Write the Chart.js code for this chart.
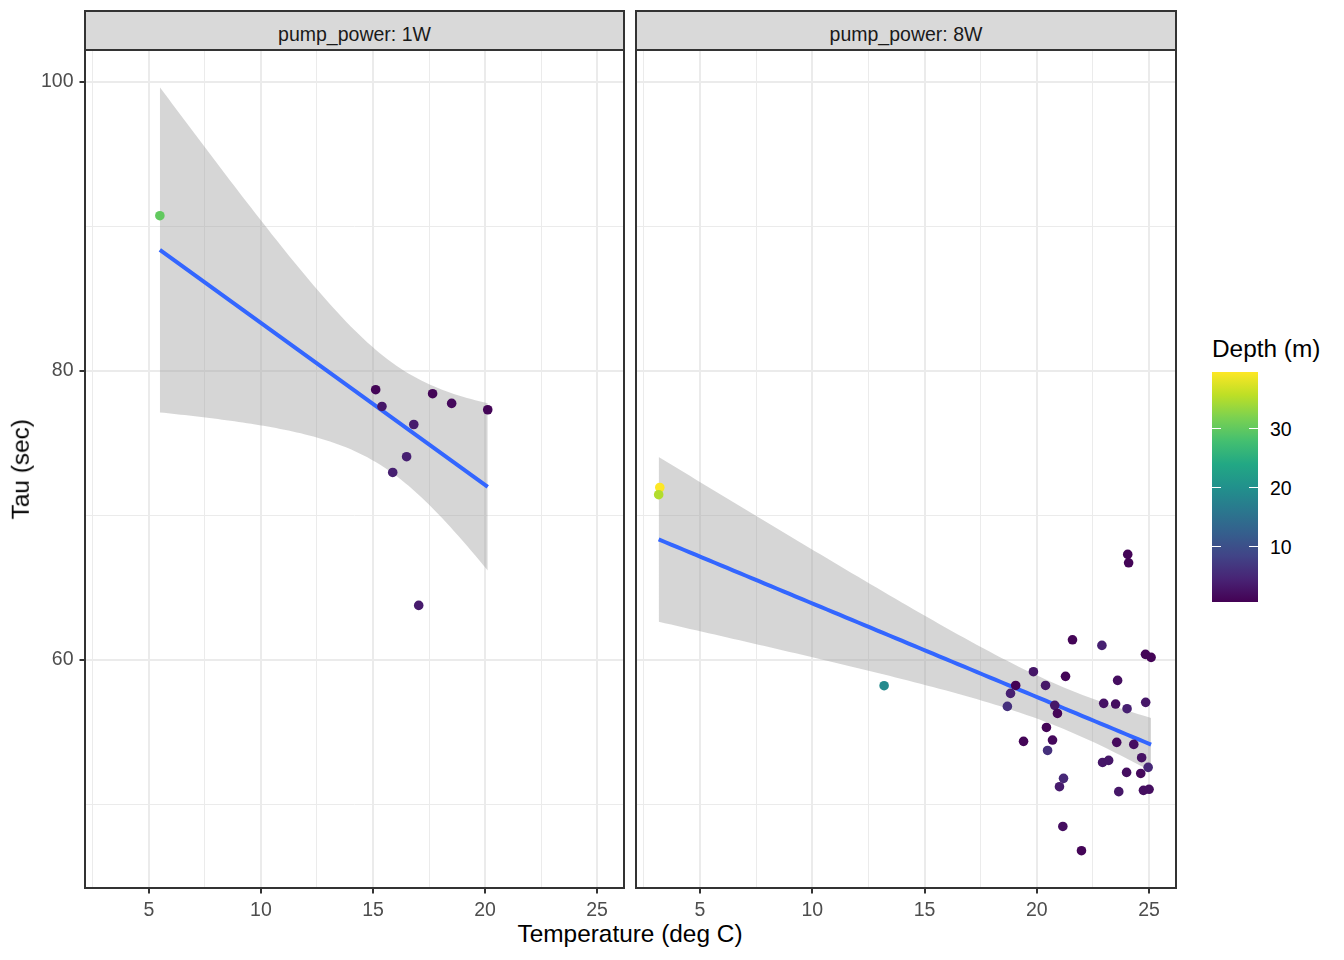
<!DOCTYPE html>
<html>
<head>
<meta charset="utf-8">
<script src="https://cdn.jsdelivr.net/npm/chart.js@4.4.1/dist/chart.umd.min.js"></script>
<style>
  body { margin: 0; background: #fff; font-family: "Liberation Sans", Arial, sans-serif; }
  #wrap { position: relative; width: 1344px; height: 960px; overflow: hidden; }
  canvas { position: absolute; top: 0; }
  .strip { position: absolute; top: 10px; height: 41px; background: #d9d9d9; border: 2px solid #333; box-sizing: border-box; }
  .txt { position: absolute; white-space: nowrap; line-height: 1; }
</style>
</head>
<body>
<div id="wrap">
  <canvas id="c1" width="630" height="920" style="left:0"></canvas>
  <canvas id="c2" width="560" height="920" style="left:630px"></canvas>
</div>
<script>
const FONT = '"Liberation Sans", Arial, sans-serif';
const SMALL = 19.5, BIG = 24.4;

// facet 1W
const tempLow  = [5.49, 15.12, 15.40, 17.66, 18.51, 20.12, 16.82, 16.50, 15.88, 17.04];
const tauLow   = [90.73, 78.69, 77.53, 78.41, 77.74, 77.30, 76.28, 74.05, 72.96, 63.76];
const depthLow = [30, 1, 3, 1, 1.5, 1, 3.5, 4, 4, 3.5];

// facet 8W
const tempHigh  = [3.21, 3.16, 13.20, 24.05, 24.09, 21.59, 22.90, 24.84, 25.09, 19.85, 21.28, 23.60, 19.06, 20.39,
                   18.83, 18.69, 20.80, 20.92, 22.98, 23.51, 24.02, 24.85, 20.43, 19.41, 20.70, 20.48, 23.56, 24.32,
                   24.67, 24.96, 22.93, 23.20, 24.00, 24.63, 21.19, 21.01, 23.65, 24.75, 25.00, 21.16, 21.99];
const tauHigh   = [71.92, 71.42, 58.20, 67.29, 66.71, 61.38, 60.99, 60.37, 60.16, 59.17, 58.85, 58.57, 58.22, 58.22,
                   57.67, 56.77, 56.84, 56.28, 56.98, 56.93, 56.61, 57.05, 55.31, 54.35, 54.44, 53.72, 54.28, 54.14,
                   53.22, 52.55, 52.89, 53.03, 52.20, 52.13, 51.79, 51.21, 50.87, 50.96, 51.03, 48.46, 46.78];
const depthHigh = [39.5, 35, 19, 1, 1, 1, 4, 1, 1, 3, 1, 2, 0.6, 3,
                   4, 6, 3, 1, 2.5, 2, 4, 3, 1, 1, 1.5, 6, 1.5, 2,
                   2.5, 5, 3, 3, 2, 1.5, 5, 3.5, 3, 2, 2, 2, 1];

const panelNames = ['pump_power: 1W', 'pump_power: 8W'];
const xTicks = [5, 10, 15, 20, 25];
const yTicks = [60, 80, 100];
const depthTicks = [10, 20, 30];

const viridis = ['#440154', '#482475', '#414487', '#355f8d', '#2a788e', '#21918c',
                 '#22a884', '#44bf70', '#7ad151', '#bddf26', '#fde725'];

const allDepth = depthLow.concat(depthHigh);
const dMin = Math.min(...allDepth), dMax = Math.max(...allDepth);

function hexRgb(h) {
  return [parseInt(h.slice(1, 3), 16), parseInt(h.slice(3, 5), 16), parseInt(h.slice(5, 7), 16)];
}
function depthColor(d) {
  const t = Math.max(0, Math.min(1, (d - dMin) / (dMax - dMin))) * (viridis.length - 1);
  const i = Math.min(Math.floor(t), viridis.length - 2), f = t - i;
  const a = hexRgb(viridis[i]), b = hexRgb(viridis[i + 1]);
  return 'rgb(' + a.map((v, k) => Math.round(v + (b[k] - v) * f)).join(',') + ')';
}

// t quantile (0.975) by Cornish-Fisher expansion
function tQuant(df) {
  const z = 1.959964;
  const z3 = z ** 3, z5 = z ** 5, z7 = z ** 7;
  return z + (z3 + z) / (4 * df) + (5 * z5 + 16 * z3 + 3 * z) / (96 * df * df)
    + (3 * z7 + 19 * z5 + 17 * z3 - 15 * z) / (384 * df ** 3);
}

// linear model + 95% band, like geom_smooth(method = "lm")
function lmFit(xs, ys) {
  const n = xs.length;
  const mx = xs.reduce((s, v) => s + v, 0) / n;
  const my = ys.reduce((s, v) => s + v, 0) / n;
  let sxx = 0, sxy = 0;
  xs.forEach((x, i) => { sxx += (x - mx) ** 2; sxy += (x - mx) * (ys[i] - my); });
  const b = sxy / sxx, a = my - b * mx;
  let sse = 0;
  xs.forEach((x, i) => { sse += (ys[i] - a - b * x) ** 2; });
  const s = Math.sqrt(sse / (n - 2)), t = tQuant(n - 2);
  const lo = Math.min(...xs), hi = Math.max(...xs);
  const fit = [], upper = [], lower = [];
  for (let i = 0; i < 80; i++) {
    const x = lo + (hi - lo) * i / 79;
    const yh = a + b * x;
    const se = s * Math.sqrt(1 / n + (x - mx) ** 2 / sxx);
    fit.push({ x, y: yh });
    upper.push({ x, y: yh + t * se });
    lower.push({ x, y: yh - t * se });
  }
  return { fit, upper, lower };
}

const isMajor = (list, v) => list.some(m => Math.abs(m - v) < 1e-6);

const panelBorder = {
  id: 'panelBorder',
  afterDraw(chart) {
    const { ctx, chartArea: a } = chart;
    ctx.save();
    ctx.strokeStyle = '#333333';
    ctx.lineWidth = 2;
    ctx.strokeRect(a.left, a.top, a.right - a.left, a.bottom - a.top);
    ctx.restore();
  }
};

function makePanel(id, xs, ys, ds, showY, padRight) {
  const m = lmFit(xs, ys);
  return new Chart(document.getElementById(id), {
    type: 'scatter',
    data: {
      datasets: [
        {
          data: xs.map((x, i) => ({ x, y: ys[i] })),
          backgroundColor: ds.map(depthColor),
          pointRadius: 4.8, pointBorderWidth: 0, order: 0
        },
        {
          data: m.fit, showLine: true, pointRadius: 0, borderColor: '#3366ff',
          borderWidth: 4, tension: 0, order: 1
        },
        {
          data: m.upper, showLine: true, pointRadius: 0, borderWidth: 0,
          borderColor: 'rgba(0,0,0,0)', fill: false, order: 2
        },
        {
          data: m.lower, showLine: true, pointRadius: 0, borderWidth: 0,
          borderColor: 'rgba(0,0,0,0)', fill: '-1', backgroundColor: 'rgba(153,153,153,0.4)', order: 3
        }
      ]
    },
    options: {
      responsive: false, animation: false, devicePixelRatio: 1,
      layout: { padding: { top: 50, right: padRight, left: 0, bottom: 0 } },
      plugins: { legend: { display: false }, tooltip: { enabled: false } },
      scales: {
        x: {
          type: 'linear', min: 2.15, max: 26.2,
          afterFit(s) { s.height = 32; },
          border: { display: false },
          ticks: {
            stepSize: 2.5, includeBounds: false, autoSkip: false, maxRotation: 0, padding: 5,
            color: '#4d4d4d', font: { family: FONT, size: SMALL },
            callback: v => isMajor(xTicks, v) ? String(v) : ''
          },
          grid: {
            color: '#ebebeb',
            lineWidth: c => isMajor(xTicks, c.tick.value) ? 2 : 1,
            tickLength: 5.5, tickWidth: 2,
            tickColor: c => isMajor(xTicks, c.tick.value) ? '#333333' : 'rgba(0,0,0,0)'
          }
        },
        y: {
          type: 'linear', min: 44.2, max: 102.2,
          afterFit(s) { s.width = showY ? 85 : 6; },
          border: { display: false },
          ticks: {
            display: showY, stepSize: 10, includeBounds: false, padding: 6,
            color: '#4d4d4d', font: { family: FONT, size: SMALL },
            callback: v => isMajor(yTicks, v) ? String(v) : ''
          },
          grid: {
            color: '#ebebeb',
            lineWidth: c => isMajor(yTicks, c.tick.value) ? 2 : 1,
            drawTicks: showY, tickLength: 5.5, tickWidth: 2,
            tickColor: c => isMajor(yTicks, c.tick.value) ? '#333333' : 'rgba(0,0,0,0)'
          }
        }
      }
    },
    plugins: [panelBorder]
  });
}

const wrap = document.getElementById('wrap');
function addText(str, css) {
  const d = document.createElement('div');
  d.className = 'txt';
  d.textContent = str;
  Object.assign(d.style, css);
  wrap.appendChild(d);
  return d;
}

const charts = [
  makePanel('c1', tempLow, tauLow, depthLow, true, 6),
  makePanel('c2', tempHigh, tauHigh, depthHigh, false, 14)
];

// facet strips, placed over each chart area
charts.forEach((ch, i) => {
  const a = ch.chartArea;
  const off = i === 0 ? 0 : 630;
  const s = document.createElement('div');
  s.className = 'strip';
  s.style.left = (off + a.left - 1) + 'px';
  s.style.width = (a.right - a.left + 2) + 'px';
  wrap.appendChild(s);
  addText(panelNames[i], {
    left: (off + a.left) + 'px', width: (a.right - a.left) + 'px', textAlign: 'center',
    top: '24.5px', fontSize: SMALL + 'px', color: '#1a1a1a'
  });
});

// axis titles
addText('Temperature (deg C)', { left: '330px', width: '600px', textAlign: 'center', top: '922.3px', fontSize: BIG + 'px', color: '#000' });
addText('Tau (sec)', {
  left: '-129.5px', width: '300px', textAlign: 'center', top: '456.8px', fontSize: BIG + 'px',
  lineHeight: BIG + 'px', color: '#000', transform: 'rotate(-90deg)'
});

// colour bar legend
const barTop = 372, barH = 230, barLeft = 1212, barW = 46;
addText('Depth (m)', { left: '1212px', top: '337.3px', fontSize: BIG + 'px', color: '#000' });
const bar = document.createElement('div');
Object.assign(bar.style, {
  position: 'absolute', left: barLeft + 'px', top: barTop + 'px', width: barW + 'px', height: barH + 'px',
  background: 'linear-gradient(to top, ' + viridis.join(', ') + ')'
});
wrap.appendChild(bar);
depthTicks.forEach(v => {
  const y = barTop + barH - (v - dMin) / (dMax - dMin) * barH;
  [barLeft, barLeft + barW - 9].forEach(x => {
    const t = document.createElement('div');
    Object.assign(t.style, { position: 'absolute', left: x + 'px', top: (y - 0.5) + 'px', width: '9px', height: '1px', background: '#fff' });
    wrap.appendChild(t);
  });
  addText(String(v), { left: '1270px', top: (y - 8) + 'px', fontSize: SMALL + 'px', color: '#000' });
});
</script>
</body>
</html>
